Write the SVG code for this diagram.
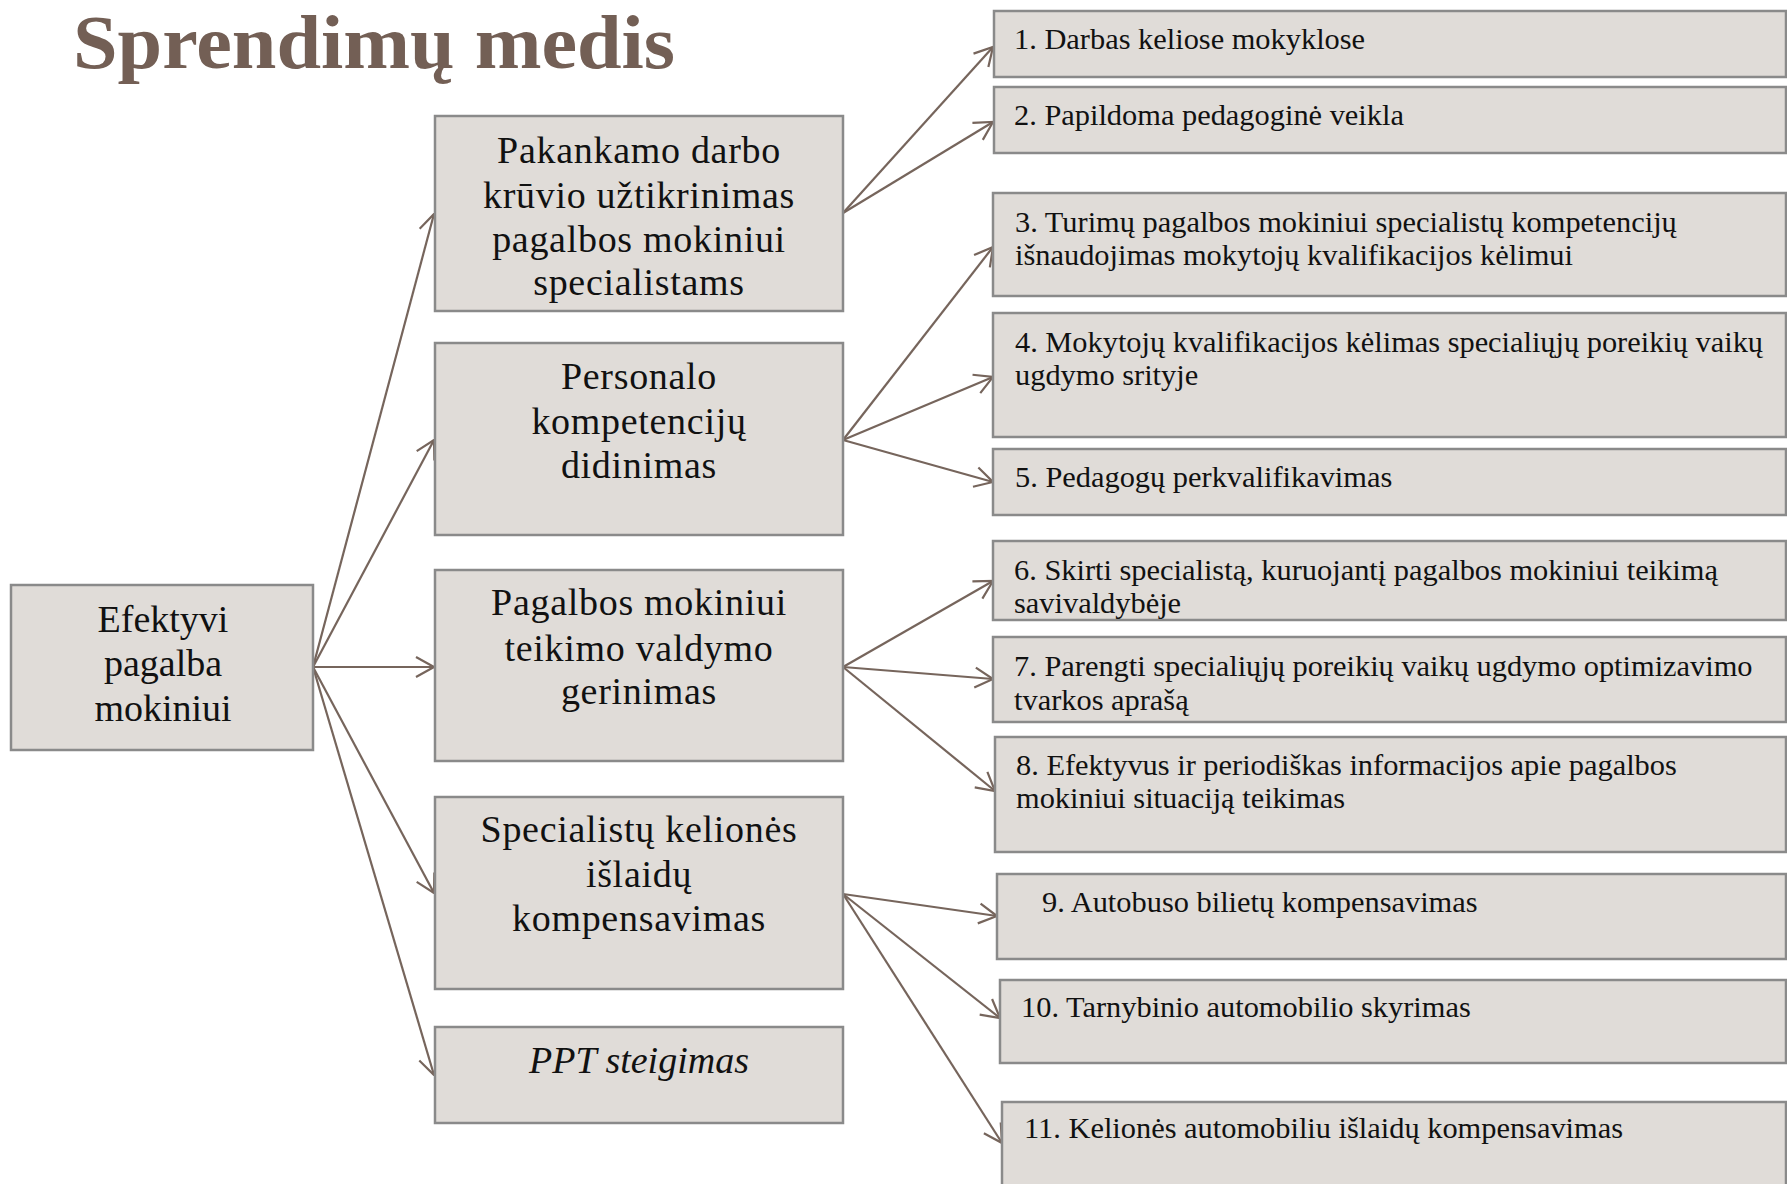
<svg xmlns="http://www.w3.org/2000/svg" width="1787" height="1184" viewBox="0 0 1787 1184">
<style>
.box{fill:#E0DCD8;stroke:#8A8A8A;stroke-width:2.5}
.t{font-family:"Liberation Serif","Times New Roman",serif;fill:#111}
.big{font-size:38px;text-anchor:middle}
.mid{letter-spacing:0.7px}
.sm{font-size:30.4px}
.title{font-family:"Liberation Serif","Times New Roman",serif;font-weight:bold;font-size:76px;fill:#735F55}
.c{stroke:#76655C;stroke-width:2.2;fill:none;marker-end:url(#ah)}
</style>
<defs>
<marker id="ah" viewBox="0 0 20 24" refX="19" refY="12" markerWidth="20" markerHeight="24" markerUnits="userSpaceOnUse" orient="auto">
<path d="M1,2 L19,12 L1,22" fill="none" stroke="#76655C" stroke-width="2.2"/>
</marker>
</defs>
<rect width="1787" height="1184" fill="#fff"/>
<text class="title" x="73" y="68" textLength="602" lengthAdjust="spacingAndGlyphs">Sprendimų medis</text>

<g id="connectors">
<line class="c" x1="313" y1="667" x2="434" y2="214"/>
<line class="c" x1="313" y1="667" x2="434" y2="440"/>
<line class="c" x1="313" y1="667" x2="434" y2="667"/>
<line class="c" x1="313" y1="667" x2="434" y2="893"/>
<line class="c" x1="313" y1="667" x2="434" y2="1075"/>
<line class="c" x1="843" y1="213" x2="993" y2="47"/>
<line class="c" x1="843" y1="213" x2="993" y2="122"/>
<line class="c" x1="843" y1="440" x2="993" y2="247"/>
<line class="c" x1="843" y1="440" x2="993" y2="377"/>
<line class="c" x1="843" y1="440" x2="993" y2="482"/>
<line class="c" x1="843" y1="667" x2="993" y2="581"/>
<line class="c" x1="843" y1="667" x2="993" y2="679"/>
<line class="c" x1="843" y1="667" x2="995" y2="791"/>
<line class="c" x1="843" y1="894" x2="997" y2="916"/>
<line class="c" x1="843" y1="894" x2="1000" y2="1018"/>
<line class="c" x1="843" y1="894" x2="1002" y2="1143"/>
</g>

<g id="root">
<rect class="box" x="11" y="585" width="302" height="165"/>
<text class="t big" x="163" y="632">Efektyvi</text>
<text class="t big" x="163" y="676">pagalba</text>
<text class="t big" x="163" y="721">mokiniui</text>
</g>

<g id="m1">
<rect class="box" x="435" y="116" width="408" height="195"/>
<text class="t big mid" x="639" y="163">Pakankamo darbo</text>
<text class="t big mid" x="639" y="208">krūvio užtikrinimas</text>
<text class="t big mid" x="639" y="252">pagalbos mokiniui</text>
<text class="t big mid" x="639" y="295">specialistams</text>
</g>
<g id="m2">
<rect class="box" x="435" y="343" width="408" height="192"/>
<text class="t big mid" x="639" y="389">Personalo</text>
<text class="t big mid" x="639" y="434">kompetencijų</text>
<text class="t big mid" x="639" y="478">didinimas</text>
</g>
<g id="m3">
<rect class="box" x="435" y="570" width="408" height="191"/>
<text class="t big mid" x="639" y="615">Pagalbos mokiniui</text>
<text class="t big mid" x="639" y="661">teikimo valdymo</text>
<text class="t big mid" x="639" y="704">gerinimas</text>
</g>
<g id="m4">
<rect class="box" x="435" y="797" width="408" height="192"/>
<text class="t big mid" x="639" y="842">Specialistų kelionės</text>
<text class="t big mid" x="639" y="887">išlaidų</text>
<text class="t big mid" x="639" y="931">kompensavimas</text>
</g>
<g id="m5">
<rect class="box" x="435" y="1027" width="408" height="96"/>
<text class="t big" x="639" y="1073" font-style="italic">PPT steigimas</text>
</g>

<g id="r1">
<rect class="box" x="994" y="11" width="792" height="66"/>
<text class="t sm" x="1014" y="49">1. Darbas keliose mokyklose</text>
</g>
<g id="r2">
<rect class="box" x="994" y="87" width="792" height="66"/>
<text class="t sm" x="1014" y="125">2. Papildoma pedagoginė veikla</text>
</g>
<g id="r3">
<rect class="box" x="993" y="193" width="793" height="103"/>
<text class="t sm" x="1015" y="232">3. Turimų pagalbos mokiniui specialistų kompetencijų</text>
<text class="t sm" x="1015" y="265">išnaudojimas mokytojų kvalifikacijos kėlimui</text>
</g>
<g id="r4">
<rect class="box" x="993" y="313" width="793" height="124"/>
<text class="t sm" x="1015" y="352" textLength="748" lengthAdjust="spacingAndGlyphs">4. Mokytojų kvalifikacijos kėlimas specialiųjų poreikių vaikų</text>
<text class="t sm" x="1015" y="385">ugdymo srityje</text>
</g>
<g id="r5">
<rect class="box" x="993" y="449" width="793" height="66"/>
<text class="t sm" x="1015" y="487">5. Pedagogų perkvalifikavimas</text>
</g>
<g id="r6">
<rect class="box" x="993" y="541" width="793" height="79"/>
<text class="t sm" x="1014" y="580">6. Skirti specialistą, kuruojantį pagalbos mokiniui teikimą</text>
<text class="t sm" x="1014" y="613">savivaldybėje</text>
</g>
<g id="r7">
<rect class="box" x="993" y="637" width="793" height="85"/>
<text class="t sm" x="1014" y="676">7. Parengti specialiųjų poreikių vaikų ugdymo optimizavimo</text>
<text class="t sm" x="1014" y="710">tvarkos aprašą</text>
</g>
<g id="r8">
<rect class="box" x="995" y="737" width="791" height="115"/>
<text class="t sm" x="1016" y="775">8. Efektyvus ir periodiškas informacijos apie pagalbos</text>
<text class="t sm" x="1016" y="808">mokiniui situaciją teikimas</text>
</g>
<g id="r9">
<rect class="box" x="997" y="874" width="789" height="85"/>
<text class="t sm" x="1042" y="912">9. Autobuso bilietų kompensavimas</text>
</g>
<g id="r10">
<rect class="box" x="1000" y="980" width="786" height="83"/>
<text class="t sm" x="1021" y="1017">10. Tarnybinio automobilio skyrimas</text>
</g>
<g id="r11">
<rect class="box" x="1002" y="1102" width="784" height="95"/>
<text class="t sm" x="1024" y="1138">11. Kelionės automobiliu išlaidų kompensavimas</text>
</g>
</svg>
